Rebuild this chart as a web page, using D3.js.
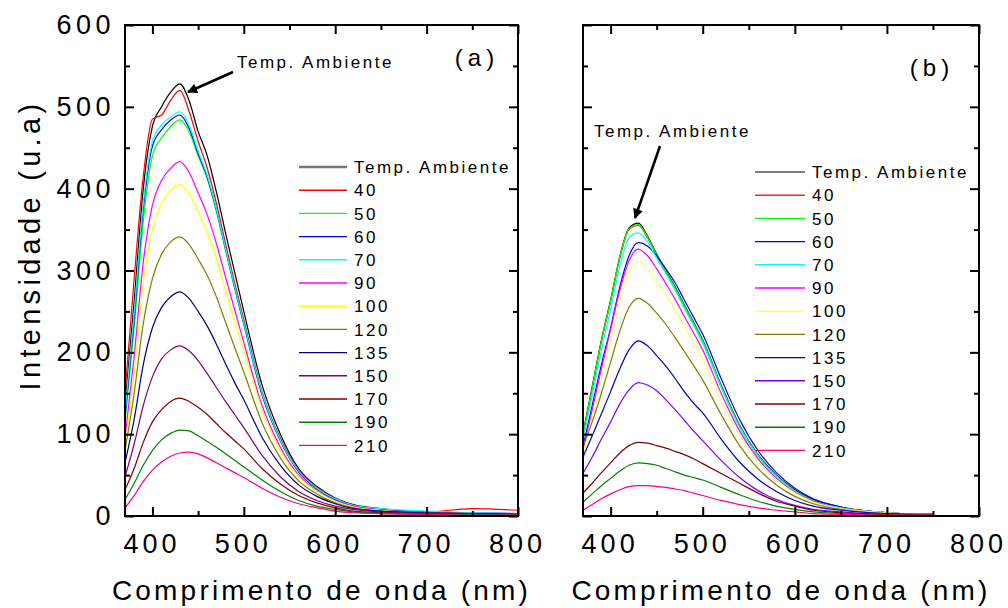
<!DOCTYPE html>
<html>
<head>
<meta charset="utf-8">
<script src="https://cdnjs.cloudflare.com/ajax/libs/d3/7.8.5/d3.min.js"></script>
<style>
body { margin: 0; background: #fff; }
svg { font-family: "Liberation Sans", Arial, sans-serif; }
</style>
</head>
<body>
<script>
var wavelengthA = [370, 380, 390, 400, 410, 420, 430, 440, 450, 460, 470, 480, 490, 500, 520, 540, 560, 580, 600, 620, 650, 700, 750, 800];
var wavelengthB = [370, 380, 390, 400, 410, 420, 430, 440, 450, 460, 470, 480, 490, 500, 520, 540, 560, 580, 600, 620, 650, 700, 750];

var seriesLabels = ["Temp. Ambiente", "40", "50", "60", "70", "90", "100", "120", "135", "150", "170", "190", "210"];

// panel (a)
var intensityA = [
    [135, 262, 400, 476, 500, 518, 528, 508, 470, 440, 396, 346, 298, 250, 160, 100, 58, 36, 22, 14, 9, 4, 3, 2],
    [150, 290, 415, 485, 490, 508, 520, 495, 458, 425, 382, 333, 285, 240, 152, 95, 56, 35, 21, 13, 8, 5, 9, 7],
    [115, 230, 360, 440, 462, 476, 484, 470, 440, 412, 372, 325, 278, 234, 148, 92, 54, 33, 20, 12, 8, 4, 3, 2],
    [120, 240, 375, 452, 472, 484, 490, 474, 443, 414, 374, 326, 279, 235, 148, 92, 54, 33, 20, 13, 8, 5, 4, 3],
    [126, 248, 382, 458, 478, 488, 494, 478, 446, 416, 375, 327, 280, 236, 150, 93, 55, 34, 21, 13, 9, 6, 4, 3],
    [95, 195, 310, 380, 410, 425, 433, 420, 395, 368, 333, 292, 252, 212, 135, 84, 50, 31, 19, 12, 7, 4, 3, 2],
    [85, 175, 285, 350, 382, 398, 405, 394, 372, 346, 315, 276, 238, 202, 130, 80, 48, 30, 18, 11, 7, 4, 3, 2],
    [80, 150, 235, 290, 320, 335, 341, 332, 314, 294, 268, 237, 206, 176, 114, 71, 43, 27, 16, 10, 6, 4, 3, 2],
    [65, 118, 185, 230, 255, 268, 274, 266, 250, 232, 210, 186, 163, 142, 96, 62, 38, 24, 15, 9, 6, 4, 3, 2],
    [48, 88, 135, 170, 192, 203, 208, 202, 190, 174, 157, 140, 124, 108, 74, 48, 30, 19, 12, 8, 5, 3, 2, 2],
    [32, 58, 90, 115, 130, 140, 144, 140, 133, 124, 113, 102, 92, 82, 58, 39, 25, 16, 10, 6, 4, 3, 2, 2],
    [20, 40, 62, 80, 93, 101, 105, 104, 98, 91, 84, 76, 68, 60, 44, 30, 19, 12, 8, 5, 3, 2, 2, 1],
    [10, 25, 42, 56, 66, 73, 77, 78, 76, 71, 65, 59, 53, 47, 34, 23, 15, 10, 6, 4, 3, 2, 1, 1]
];

// panel (b)
var intensityB = [
    [101, 158, 215, 264, 317, 352, 358, 342, 320, 300, 280, 258, 237, 215, 160, 111, 75, 50, 32, 20, 11, 4, 2],
    [98, 155, 213, 262, 315, 350, 355, 340, 318, 298, 278, 256, 235, 213, 158, 110, 74, 49, 31, 19, 10, 4, 2],
    [100, 156, 214, 263, 316, 351, 356, 341, 319, 299, 279, 257, 236, 214, 159, 110, 74, 49, 31, 19, 10, 4, 2],
    [85, 135, 185, 230, 280, 318, 334, 330, 318, 302, 285, 264, 243, 222, 168, 118, 80, 53, 34, 21, 11, 4, 2],
    [92, 147, 203, 252, 305, 340, 346, 335, 315, 296, 276, 254, 233, 211, 157, 108, 73, 48, 30, 18, 10, 4, 2],
    [80, 130, 180, 228, 276, 312, 326, 318, 302, 284, 265, 244, 224, 203, 150, 104, 70, 46, 29, 18, 9, 4, 2],
    [75, 120, 168, 214, 262, 298, 311, 302, 286, 270, 252, 232, 212, 192, 142, 99, 66, 44, 28, 17, 9, 4, 2],
    [85, 115, 150, 188, 226, 255, 266, 260, 248, 234, 218, 201, 184, 166, 124, 86, 58, 38, 24, 15, 8, 3, 2],
    [72, 98, 125, 152, 180, 203, 214, 208, 196, 183, 168, 152, 138, 126, 94, 66, 45, 30, 19, 12, 7, 3, 2],
    [52, 72, 94, 115, 137, 154, 163, 160, 153, 142, 130, 117, 104, 92, 68, 47, 31, 20, 13, 8, 5, 2, 1],
    [28, 40, 53, 65, 77, 86, 90, 89, 86, 83, 79, 75, 70, 64, 52, 40, 28, 18, 12, 7, 4, 2, 1],
    [17, 27, 37, 46, 55, 62, 65, 64, 62, 58, 54, 50, 47, 44, 35, 26, 18, 12, 8, 5, 3, 1, 1],
    [7, 14, 21, 27, 32, 36, 37, 37, 36, 35, 33, 31, 28, 25, 19, 14, 10, 7, 5, 3, 2, 1, 1]
];

var colorsA = ["#000000", "#ff0000", "#00ff00", "#0000ff", "#00ffff", "#ff00ff", "#ffff00", "#808000", "#000080", "#800080", "#800000", "#008000", "#ff0080"];
var colorsB = ["#000000", "#ff2020", "#00ff00", "#0000ff", "#00ffff", "#ff00ff", "#ffff60", "#808000", "#0000c0", "#8000ff", "#800000", "#008000", "#ff0080"];

var xMajor = [400, 500, 600, 700, 800];
var xMinor = [450, 550, 650, 750];
var yMajor = [0, 100, 200, 300, 400, 500, 600];
var yMinor = [50, 150, 250, 350, 450, 550];

var svg = d3.select('body').append('svg')
    .attr('width', 1008)
    .attr('height', 608);

function drawPanel(cfg) {
    var x = d3.scaleLinear().domain([370, 800]).range([cfg.left, cfg.right]);
    var y = d3.scaleLinear().domain([0, 600]).range([516, 25]);

    var g = svg.append('g');

    var clipId = 'clip-' + cfg.name;
    svg.append('clipPath').attr('id', clipId)
        .append('rect')
        .attr('x', x.range()[0]).attr('y', y.range()[1])
        .attr('width', x.range()[1] - x.range()[0])
        .attr('height', y.range()[0] - y.range()[1]);

    var line = d3.line()
        .x(function (d) { return x(d[0]); })
        .y(function (d) { return y(d[1]); })
        .curve(d3.curveMonotoneX);

    g.append('g').attr('clip-path', 'url(#' + clipId + ')')
        .selectAll('path')
        .data(cfg.values)
        .enter().append('path')
        .attr('fill', 'none')
        .attr('stroke', function (d, i) { return cfg.colors[i]; })
        .attr('stroke-width', 1.2)
        .attr('d', function (d) {
            return line(d.map(function (v, i) { return [cfg.wavelength[i], v]; }));
        });

    // axes, ticks pointing inward
    function axis(gen, tx, ty, vals, size, labels) {
        var a = gen.tickValues(vals).tickSizeInner(-size).tickSizeOuter(0);
        if (!labels) a.tickFormat('');
        var ag = g.append('g')
            .attr('transform', 'translate(' + tx + ',' + ty + ')')
            .call(a);
        ag.select('.domain').remove();
        ag.selectAll('line').attr('stroke-width', 2);
        return ag;
    }

    var bottom = axis(d3.axisBottom(x).tickPadding(18), 0, 516, xMajor, 9, true);
    bottom.selectAll('text')
        .attr('font-size', 27).attr('letter-spacing', 4).attr('dx', -1).attr('fill', '#000')
        .attr('font-family', '"Liberation Sans", Arial, sans-serif');
    axis(d3.axisBottom(x), 0, 516, xMinor, 5, false);
    axis(d3.axisTop(x), 0, 25, xMajor, 9, false);
    axis(d3.axisTop(x), 0, 25, xMinor, 5, false);

    var left = axis(d3.axisLeft(y).tickPadding(10), cfg.left, 0, yMajor, 9, cfg.yLabels);
    left.selectAll('text')
        .attr('font-size', 27).attr('letter-spacing', 4.5).attr('fill', '#000')
        .attr('font-family', '"Liberation Sans", Arial, sans-serif');
    axis(d3.axisLeft(y), cfg.left, 0, yMinor, 5, false);
    axis(d3.axisRight(y), cfg.right, 0, yMajor, 9, false);
    axis(d3.axisRight(y), cfg.right, 0, yMinor, 5, false);

    // frame
    g.append('rect')
        .attr('x', x.range()[0]).attr('y', y.range()[1])
        .attr('width', x.range()[1] - x.range()[0])
        .attr('height', y.range()[0] - y.range()[1])
        .attr('fill', 'none')
        .attr('stroke', '#000')
        .attr('stroke-width', 2);

    // axis title
    g.append('text')
        .attr('x', (cfg.left + cfg.right) / 2 + cfg.titleShift)
        .attr('y', 600)
        .attr('text-anchor', 'middle')
        .attr('font-size', 28)
        .attr('letter-spacing', 3.2)
        .text('Comprimento de onda (nm)');

    // panel tag
    g.append('text')
        .attr('x', cfg.tag[0]).attr('y', cfg.tag[1])
        .attr('text-anchor', 'middle')
        .attr('font-size', 24)
        .attr('letter-spacing', 5)
        .text(cfg.tagText);

    // legend
    var legend = g.append('g')
        .attr('transform', 'translate(' + cfg.legend[0] + ',' + cfg.legend[1] + ')')
        .selectAll('g')
        .data(seriesLabels)
        .enter().append('g')
        .attr('transform', function (d, i) { return 'translate(0,' + (i * 23.2) + ')'; });

    legend.append('line')
        .attr('x1', 0).attr('x2', cfg.legendLine)
        .attr('stroke', function (d, i) { return i === 0 ? cfg.firstLegendColor : cfg.colors[i]; })
        .attr('stroke-width', function (d, i) { return i === 0 ? cfg.firstLegendWidth : 1.4; });

    legend.append('text')
        .attr('x', cfg.legendLine + 7)
        .attr('dy', '0.36em')
        .attr('font-size', 17)
        .attr('letter-spacing', 2.5)
        .text(function (d) { return d; });

    // annotation arrow
    var note = cfg.note;
    g.append('text')
        .attr('x', note.tx).attr('y', note.ty)
        .attr('font-size', 17)
        .attr('letter-spacing', 2.5)
        .text('Temp. Ambiente');
    g.append('line')
        .attr('x1', note.x1).attr('y1', note.y1)
        .attr('x2', note.x2).attr('y2', note.y2)
        .attr('stroke', '#000')
        .attr('stroke-width', 2.5)
        .attr('marker-end', 'url(#arrow)');

    return { x: x, y: y };
}

var defs = svg.append('defs');
defs.append('marker')
    .attr('id', 'arrow')
    .attr('viewBox', '0 0 10 10')
    .attr('refX', 9).attr('refY', 5)
    .attr('markerWidth', 5).attr('markerHeight', 4)
    .attr('markerUnits', 'strokeWidth')
    .attr('orient', 'auto')
    .append('path')
    .attr('d', 'M0,0L10,5L0,10z')
    .attr('fill', '#000');

drawPanel({
    name: 'a', left: 125, right: 518, yLabels: true,
    wavelength: wavelengthA, values: intensityA, colors: colorsA,
    titleShift: 0,
    tag: [477, 66], tagText: '(a)',
    legend: [299, 167], legendLine: 48,
    firstLegendColor: '#777', firstLegendWidth: 2.5,
    note: { tx: 237, ty: 68, x1: 233, y1: 72, x2: 188, y2: 92 }
});

drawPanel({
    name: 'b', left: 583, right: 979, yLabels: false,
    wavelength: wavelengthB, values: intensityB, colors: colorsB,
    titleShift: 0,
    tag: [932, 76], tagText: '(b)',
    legend: [755, 172], legendLine: 50,
    firstLegendColor: '#000', firstLegendWidth: 1.2,
    note: { tx: 594, ty: 137, x1: 660, y1: 146, x2: 635, y2: 218 }
});

// y axis title
svg.append('text')
    .attr('transform', 'translate(40,245) rotate(-90)')
    .attr('text-anchor', 'middle')
    .attr('font-size', 29)
    .attr('letter-spacing', 4.3)
    .text('Intensidade (u.a)');
</script>
</body>
</html>
